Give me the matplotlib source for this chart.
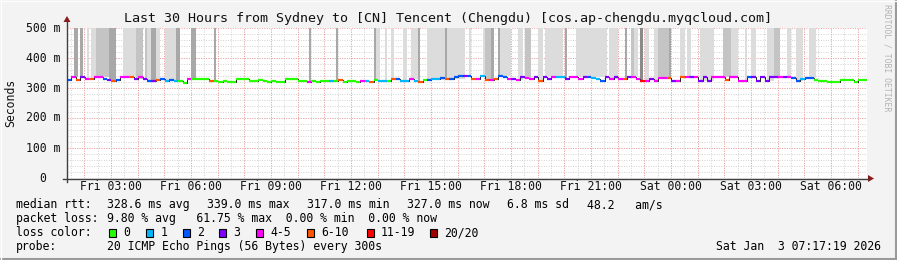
import matplotlib
matplotlib.use("Agg")
import matplotlib.pyplot as plt
from matplotlib.patches import Rectangle, Polygon
from matplotlib.lines import Line2D

W, H = 897, 260

# ---------------- data ----------------
title = "Last 30 Hours from Sydney to [CN] Tencent (Chengdu) [cos.ap-chengdu.myqcloud.com]"
window_minutes = 1800          # 30 hours, window starts Fri 01:21
bin_minutes = 10

median_ms = [
    327, 336, 326, 338, 329, 331, 338, 338, 329, 327,
    323, 327, 337, 337, 337, 329, 337, 329, 325, 325,
    327, 329, 325, 327, 322, 325, 318, 329, 329, 329,
    329, 329, 322, 325, 320, 325, 320, 320, 329, 329,
    329, 324, 322, 326, 322, 319, 324, 319, 319, 329,
    329, 329, 322, 322, 319, 324, 320, 324, 322, 322,
    322, 327, 320, 322, 324, 320, 324, 322, 320, 327,
    322, 324, 322, 329, 329, 324, 324, 329, 324, 320,
    327, 327, 329, 330, 332, 329, 329, 336, 340, 340,
    340, 329, 329, 340, 327, 327, 329, 340, 338, 329,
    329, 327, 338, 332, 330, 338, 323, 338, 329, 336,
    337, 337, 329, 337, 337, 329, 338, 338, 332, 330,
    323, 338, 329, 338, 329, 329, 337, 337, 329, 322,
    324, 329, 324, 332, 332, 332, 324, 324, 337, 337,
    337, 337, 324, 337, 324, 337, 337, 337, 327, 337,
    337, 324, 324, 337, 337, 324, 337, 324, 337, 338,
    338, 338, 338, 332, 322, 329, 332, 332, 327, 322,
    322, 319, 319, 319, 327, 327, 327, 320, 327, 327,
]
loss_class = [
    2, 4, 5, 3, 4, 5, 4, 4, 2, 3,
    5, 2, 4, 4, 5, 3, 4, 3, 2, 3,
    5, 2, 1, 2, 1, 0, 0, 4, 0, 0,
    0, 0, 5, 0, 0, 0, 0, 0, 0, 0,
    0, 0, 0, 0, 0, 0, 0, 0, 0, 0,
    0, 0, 0, 0, 4, 0, 0, 0, 0, 1,
    0, 5, 0, 0, 0, 0, 4, 1, 5, 0,
    1, 1, 0, 5, 2, 1, 1, 4, 1, 5,
    0, 2, 1, 1, 2, 5, 2, 2, 2, 3,
    2, 5, 4, 1, 5, 4, 5, 2, 2, 4,
    3, 4, 3, 4, 4, 3, 5, 3, 3, 4,
    1, 1, 3, 4, 4, 4, 3, 2, 1, 1,
    2, 3, 4, 3, 4, 5, 3, 4, 4, 6,
    4, 3, 4, 4, 4, 5, 3, 4, 5, 4,
    3, 4, 3, 3, 3, 4, 4, 4, 5, 4,
    4, 4, 4, 2, 3, 3, 3, 3, 3, 3,
    4, 3, 4, 2, 2, 1, 2, 2, 0, 0,
    0, 0, 0, 0, 0, 0, 0, 0, 0, 0,
]

# smoke (ping spread reaching the top of the graph): start/end minute, shade level
smoke_start = [15, 30, 45, 55, 65, 95, 125, 155, 175, 180, 190, 200, 220, 245, 280, 330,
               545, 605, 690, 695, 715, 730, 755, 775, 790, 810, 850, 855, 905, 935, 940,
               955, 970, 975, 1015, 1030, 1060, 1075, 1120, 1145, 1220, 1255, 1270, 1275,
               1290, 1300, 1320, 1330, 1355, 1380, 1395, 1425, 1475, 1495, 1525, 1540,
               1575, 1590, 1620, 1640, 1670]
smoke_end = [25, 35, 50, 65, 95, 110, 155, 170, 180, 190, 200, 210, 245, 255, 290, 335,
             550, 610, 695, 705, 720, 735, 765, 790, 795, 850, 855, 895, 910, 940, 955,
             960, 975, 1000, 1025, 1045, 1070, 1115, 1125, 1215, 1240, 1260, 1275, 1285,
             1295, 1310, 1330, 1355, 1360, 1390, 1405, 1455, 1495, 1510, 1530, 1550,
             1590, 1605, 1630, 1655, 1685]
smoke_level = [3, 3, 1, 1, 2, 3, 1, 2, 2, 1, 3, 1, 1, 3, 3, 3,
               3, 3, 3, 1, 1, 1, 1, 1, 3, 1, 3, 1, 1, 1, 2,
               3, 3, 1, 1, 2, 1, 1, 3, 1, 1, 3, 2, 1,
               4, 1, 1, 2, 3, 1, 1, 1, 2, 1, 1, 1,
               1, 2, 1, 1, 1]

xtick_minutes = [99, 279, 459, 639, 819, 999, 1179, 1359, 1539, 1719]
xtick_labels = ["Fri 03:00", "Fri 06:00", "Fri 09:00", "Fri 12:00", "Fri 15:00",
                "Fri 18:00", "Fri 21:00", "Sat 00:00", "Sat 03:00", "Sat 06:00"]
ytick_values = [0, 100, 200, 300, 400, 500]
ytick_labels = ["0", "100 m", "200 m", "300 m", "400 m", "500 m"]

loss_labels = ["0", "1", "2", "3", "4-5", "6-10", "11-19", "20/20"]
loss_colors = ["#26ff00", "#00b8ff", "#0059ff", "#7e00ff", "#ff00ff", "#ff5500", "#ff0000", "#a10000"]
smoke_colors = {1: "#dcdcdc", 2: "#c4c4c4", 3: "#a8a8a8", 4: "#8a8a8a"}

rtt_items = ["328.6 ms avg", "339.0 ms max", "317.0 ms min", "327.0 ms now", "6.8 ms sd", "48.2   am/s"]
loss_line = "9.80 % avg   61.75 % max  0.00 % min  0.00 % now"
probe_text = "20 ICMP Echo Pings (56 Bytes) every 300s"
stamp = "Sat Jan  3 07:17:19 2026"

# ---------------- drawing ----------------
MONO = "DejaVu Sans Mono"
fig = plt.figure(figsize=(W / 100, H / 100), dpi=100)
fig.patch.set_facecolor("#f3f3f3")


def fx(x):
    return x / W


def fy(y):
    return 1 - y / H


X0, X1, Y0, Y1 = 67, 867, 178, 28
ax = fig.add_axes([fx(X0), fy(Y0), (X1 - X0) / W, (Y0 - Y1) / H])
ax.set_facecolor("white")
ax.set_xlim(0, window_minutes)
ax.set_ylim(0, 500)
for s in ax.spines.values():
    s.set_visible(False)
ax.set_xticks([])
ax.set_yticks([])

# grid
for m in range(9, window_minutes, 30):
    ax.axvline(m, color="#d2d2d2", lw=0.7, ls=(0, (1, 1.5)), zorder=0)
for v in range(20, 500, 20):
    ax.axhline(v, color="#d2d2d2", lw=0.7, ls=(0, (1, 1.5)), zorder=0)
for m in range(39, window_minutes, 60):
    ax.axvline(m, color="#f4a0a0", lw=0.7, ls=(0, (1, 1.5)), zorder=0.5)
for v in range(100, 501, 100):
    ax.axhline(v, color="#f4a0a0", lw=0.7, ls=(0, (1, 1.5)), zorder=0.5)

# smoke
for s0, s1, lv in zip(smoke_start, smoke_end, smoke_level):
    b = median_ms[min(int(s0 // bin_minutes), len(median_ms) - 1)]
    ax.bar(s0, 500 - b, width=s1 - s0, bottom=b, align="edge",
           color=smoke_colors[lv], lw=0, zorder=1)

# median line: thin dark connector plus loss coloured segments
edges = [i * bin_minutes for i in range(len(median_ms) + 1)]
ax.step(edges, median_ms + [median_ms[-1]], where="post", color="#202020", lw=0.7, zorder=2)
for i, (v, c) in enumerate(zip(median_ms, loss_class)):
    ax.hlines(v, edges[i], edges[i + 1], colors=loss_colors[c], lw=1.6, zorder=3)

# axes lines and arrows
fig.add_artist(Line2D([fx(63), fx(868)], [fy(178.5), fy(178.5)], color="#404040", lw=1))
fig.add_artist(Line2D([fx(67), fx(67)], [fy(182), fy(22)], color="#404040", lw=1))
fig.add_artist(Polygon([(fx(868), fy(175)), (fx(874), fy(178.5)), (fx(868), fy(182))],
                       closed=True, color="#8b1a1a", lw=0))
fig.add_artist(Polygon([(fx(63.5), fy(22)), (fx(67), fy(16)), (fx(70.5), fy(22))],
                       closed=True, color="#8b1a1a", lw=0))

# tick labels
for m, lab in zip(xtick_minutes, xtick_labels):
    x = X0 + m * (X1 - X0) / window_minutes
    fig.text(fx(x), fy(187), lab, ha="center", va="center", family=MONO, size=8.3, color="#111111")
for v, lab in zip(ytick_values, ytick_labels):
    y = Y0 - v * (Y0 - Y1) / 500
    xr = 60 if lab != "0" else 46.5
    fig.text(fx(xr), fy(y), lab, ha="right", va="center", family=MONO, size=8.3, color="#111111")

fig.text(fx(10.5), fy(103), "Seconds", rotation=90, ha="center", va="center", family=MONO,
         size=8.3, color="#111111")
fig.text(fx(448), fy(18.5), title, ha="center", va="center", family=MONO, size=9.6, color="#111111")
fig.text(fx(887), fy(4), "RRDTOOL / TOBI OETIKER", rotation=270, ha="center", va="top",
         family=MONO, size=5.9, color="#b4b4b4")

# legend block
fs = 8.3
fig.text(fx(16), fy(204.5), "median rtt:", ha="left", va="center", family=MONO, size=fs)
for x, s in zip([107.3, 207.3, 307.3, 406.7, 506.7, 587.3], rtt_items):
    fig.text(fx(x), fy(204.5), s, ha="left", va="center", family=MONO, size=fs)
fig.text(fx(16), fy(218.5), "packet loss:", ha="left", va="center", family=MONO, size=fs)
fig.text(fx(107.3), fy(218.5), loss_line, ha="left", va="center", family=MONO, size=fs)
fig.text(fx(16), fy(232.5), "loss color:", ha="left", va="center", family=MONO, size=fs)
box_x = [109, 146, 182.7, 219.3, 256, 306.7, 366.7, 430]
for bx, lab, col in zip(box_x, loss_labels, loss_colors):
    fig.add_artist(Rectangle((fx(bx), fy(236.5)), 7 / W, 8 / H, facecolor=col,
                             edgecolor="black", lw=0.8))
    fig.text(fx(bx + 14.3), fy(232.5), lab, ha="left", va="center", family=MONO, size=fs)
fig.text(fx(16), fy(246.5), "probe:", ha="left", va="center", family=MONO, size=fs)
fig.text(fx(107.3), fy(246.5), probe_text, ha="left", va="center", family=MONO, size=fs)
fig.text(fx(881), fy(246.5), stamp, ha="right", va="center", family=MONO, size=fs)

# frame shading
fig.add_artist(Line2D([0, 1], [fy(259), fy(259)], color="#9a9a9a", lw=1.5))
fig.add_artist(Line2D([fx(896), fx(896)], [0, 1], color="#9a9a9a", lw=1.5))
fig.add_artist(Line2D([0, 1], [fy(0.5), fy(0.5)], color="#fdfdfd", lw=1))
fig.add_artist(Line2D([fx(0.5), fx(0.5)], [0, 1], color="#fdfdfd", lw=1))

fig.savefig("out.png", dpi=100, facecolor=fig.get_facecolor())
